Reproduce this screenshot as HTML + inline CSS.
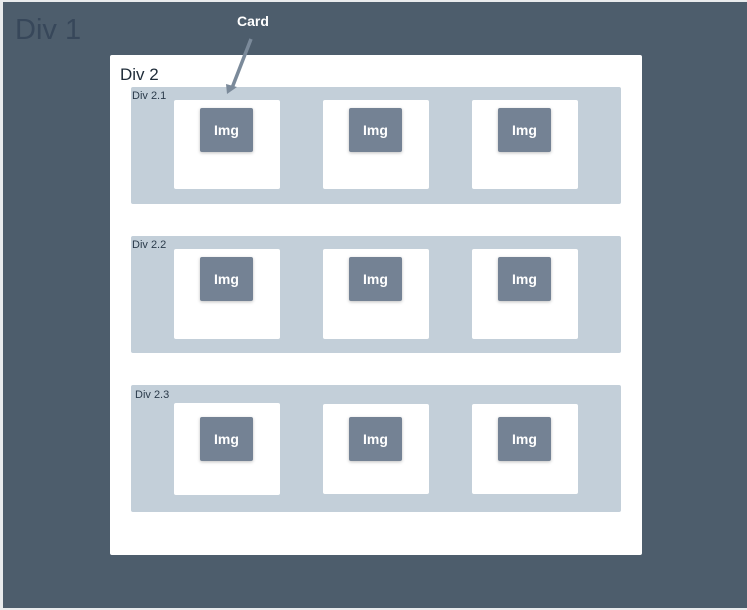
<!DOCTYPE html><html><head><style>
body{margin:0;width:747px;height:610px;background:#e9ebed;position:relative;font-family:"Liberation Sans",sans-serif;overflow:hidden}
div{position:absolute;box-sizing:border-box}
.r{background:#c3cfd9;border-radius:2px}
.c{background:#fff;border-radius:2px}
.i{background:#748294;border-radius:2px;color:#fff;font-weight:bold;font-size:14px;width:53px;height:44px;display:flex;align-items:center;justify-content:center;box-shadow:0 1px 3px rgba(0,0,0,.25)}
.l{font-size:11px;color:#2a3a4a}
</style></head><body>
<div style="left:3px;top:2px;width:744px;height:606px;background:#4d5d6c"></div>
<div style="left:15px;top:14px;font-size:29px;color:#37475a">Div 1</div>
<div style="left:110px;top:55px;width:532px;height:500px;background:#fff;border-radius:2px"></div>
<div style="left:120px;top:65px;font-size:17px;color:#1e2b38">Div 2</div>

<div class="r" style="left:131px;top:87px;width:490px;height:117px"></div>
<div class="l" style="left:132px;top:90px">Div 2.1</div>
<div class="r" style="left:131px;top:236px;width:490px;height:117px"></div>
<div class="l" style="left:132px;top:239px">Div 2.2</div>
<div class="r" style="left:131px;top:385px;width:490px;height:127px"></div>
<div class="l" style="left:135px;top:389px">Div 2.3</div>

<div class="c" style="left:174px;top:100px;width:106px;height:89px"></div>
<div class="c" style="left:323px;top:100px;width:106px;height:89px"></div>
<div class="c" style="left:472px;top:100px;width:106px;height:89px"></div>
<div class="c" style="left:174px;top:249px;width:106px;height:90px"></div>
<div class="c" style="left:323px;top:249px;width:106px;height:90px"></div>
<div class="c" style="left:472px;top:249px;width:106px;height:90px"></div>
<div class="c" style="left:174px;top:403px;width:106px;height:92px"></div>
<div class="c" style="left:323px;top:404px;width:106px;height:90px"></div>
<div class="c" style="left:472px;top:404px;width:106px;height:90px"></div>

<div class="i" style="left:200px;top:108px">Img</div>
<div class="i" style="left:349px;top:108px">Img</div>
<div class="i" style="left:498px;top:108px">Img</div>
<div class="i" style="left:200px;top:257px">Img</div>
<div class="i" style="left:349px;top:257px">Img</div>
<div class="i" style="left:498px;top:257px">Img</div>
<div class="i" style="left:200px;top:417px">Img</div>
<div class="i" style="left:349px;top:417px">Img</div>
<div class="i" style="left:498px;top:417px">Img</div>

<div style="left:237px;top:13px;font-size:14px;font-weight:bold;color:#fff">Card</div>
<svg style="position:absolute;left:0;top:0" width="747" height="610">
<line x1="251" y1="39" x2="232" y2="88" stroke="#7b8a9a" stroke-width="3.5"/>
<polygon points="227,94 226,84 237,87" fill="#7b8a9a"/>
</svg>
</body></html>
